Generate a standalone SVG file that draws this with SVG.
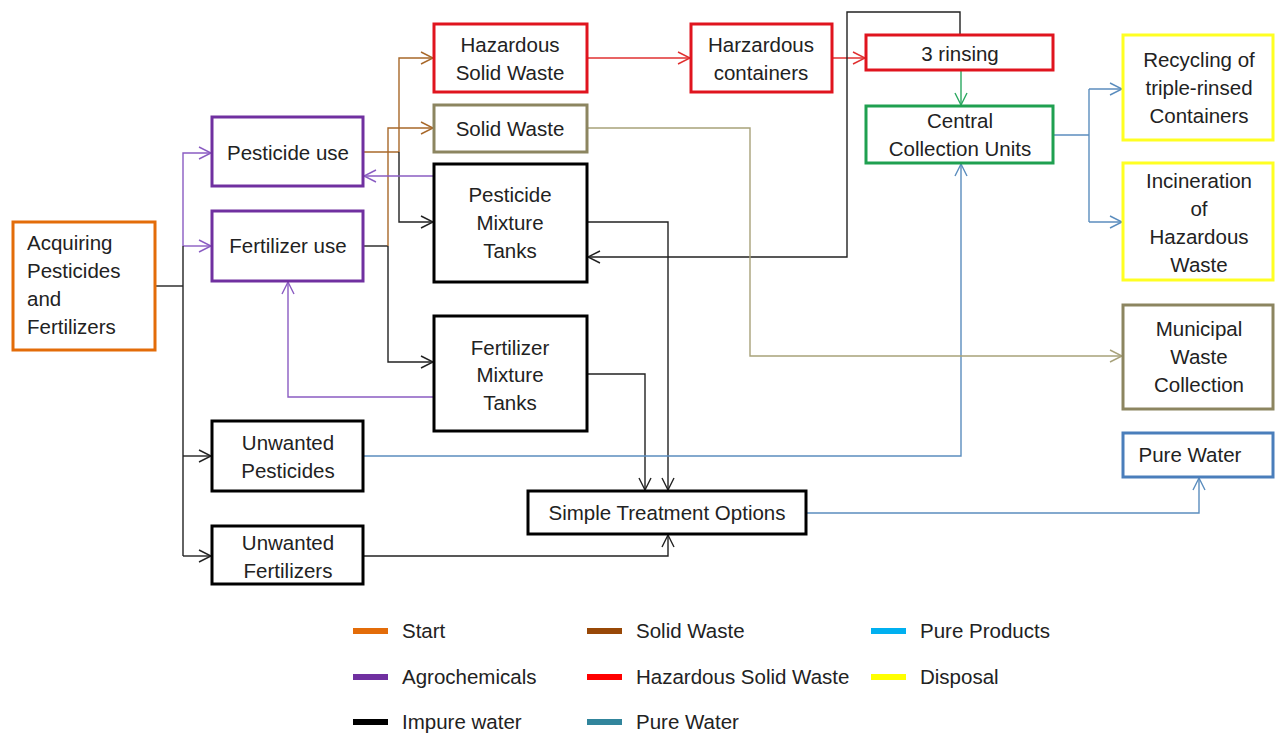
<svg xmlns="http://www.w3.org/2000/svg" width="1275" height="734" viewBox="0 0 1275 734">
<style>
.box{fill:#fff;stroke-width:3}
.t{font-family:"Liberation Sans",Arial,sans-serif;font-size:20.5px;fill:#222;text-anchor:middle}
.tl{font-family:"Liberation Sans",Arial,sans-serif;font-size:20.5px;fill:#222}
.lg{font-family:"Liberation Sans",Arial,sans-serif;font-size:20.5px;fill:#222}
.c{fill:none;stroke-width:1.4}
.k{stroke:#222}
.pu{stroke:#8A5CC2}
.br{stroke:#A8682A}
.rd{stroke:#E03030}
.gr{stroke:#2AA860}
.bl{stroke:#5B8DBE}
.ol{stroke:#A8A27A}
</style>
<defs>
<marker id="ak" markerUnits="userSpaceOnUse" markerWidth="16" markerHeight="16" refX="13" refY="7" orient="auto"><path d="M1,1 L13,7 L1,13" fill="none" stroke="#222" stroke-width="1.4"/></marker>
<marker id="apu" markerUnits="userSpaceOnUse" markerWidth="16" markerHeight="16" refX="13" refY="7" orient="auto"><path d="M1,1 L13,7 L1,13" fill="none" stroke="#8A5CC2" stroke-width="1.4"/></marker>
<marker id="abr" markerUnits="userSpaceOnUse" markerWidth="16" markerHeight="16" refX="13" refY="7" orient="auto"><path d="M1,1 L13,7 L1,13" fill="none" stroke="#A8682A" stroke-width="1.4"/></marker>
<marker id="ard" markerUnits="userSpaceOnUse" markerWidth="16" markerHeight="16" refX="13" refY="7" orient="auto"><path d="M1,1 L13,7 L1,13" fill="none" stroke="#E03030" stroke-width="1.4"/></marker>
<marker id="agr" markerUnits="userSpaceOnUse" markerWidth="16" markerHeight="16" refX="13" refY="7" orient="auto"><path d="M1,1 L13,7 L1,13" fill="none" stroke="#2AA860" stroke-width="1.4"/></marker>
<marker id="abl" markerUnits="userSpaceOnUse" markerWidth="16" markerHeight="16" refX="13" refY="7" orient="auto"><path d="M1,1 L13,7 L1,13" fill="none" stroke="#5B8DBE" stroke-width="1.4"/></marker>
<marker id="aol" markerUnits="userSpaceOnUse" markerWidth="16" markerHeight="16" refX="13" refY="7" orient="auto"><path d="M1,1 L13,7 L1,13" fill="none" stroke="#A8A27A" stroke-width="1.4"/></marker>
</defs>
<rect width="1275" height="734" fill="#fff"/>

<g id="connectors">
  <path class="c k" d="M155,286 H183"/>
  <path class="c pu" d="M183,246 V153 H211" marker-end="url(#apu)"/>
  <path class="c pu" d="M183,246 H211" marker-end="url(#apu)"/>
  <path class="c k" d="M183,246 V556"/>
  <path class="c k" d="M183,456 H211" marker-end="url(#ak)"/>
  <path class="c k" d="M183,556 H211" marker-end="url(#ak)"/>
  <path class="c br" d="M363,152 H399"/>
  <path class="c br" d="M399,152 V58 H433" marker-end="url(#abr)"/>
  <path class="c k" d="M399,152 V222 H433" marker-end="url(#ak)"/>
  <path class="c k" d="M363,246 H388"/>
  <path class="c br" d="M388,246 V128 H433" marker-end="url(#abr)"/>
  <path class="c k" d="M388,246 V362 H433" marker-end="url(#ak)"/>
  <path class="c pu" d="M434,176 H364" marker-end="url(#apu)"/>
  <path class="c pu" d="M434,397 H288 V282" marker-end="url(#apu)"/>
  <path class="c rd" d="M587,58 H690" marker-end="url(#ard)"/>
  <path class="c rd" d="M832,58 H865" marker-end="url(#ard)"/>
  <path class="c gr" d="M961,70 V105" marker-end="url(#agr)"/>
  <path class="c k" d="M960,35 V12 H847 V257 H588" marker-end="url(#ak)"/>
  <path class="c k" d="M587,222 H668 V490" marker-end="url(#ak)"/>
  <path class="c k" d="M587,374 H645 V490" marker-end="url(#ak)"/>
  <path class="c k" d="M363,556 H668 V535" marker-end="url(#ak)"/>
  <path class="c bl" d="M363,456 H961 V164" marker-end="url(#abl)"/>
  <path class="c bl" d="M806,513 H1199 V478" marker-end="url(#abl)"/>
  <path class="c bl" d="M1053,135 H1089"/>
  <path class="c bl" d="M1089,89 V222"/>
  <path class="c bl" d="M1089,89 H1122" marker-end="url(#abl)"/>
  <path class="c bl" d="M1089,222 H1122" marker-end="url(#abl)"/>
  <path class="c ol" d="M587,128 H750 V356 H1122" marker-end="url(#aol)"/>
</g>

<g id="acquiring">
  <rect class="box" x="13" y="222" width="142" height="128" stroke="#E36C09"/>
  <text class="tl" x="27" y="250">Acquiring</text>
  <text class="tl" x="27" y="278">Pesticides</text>
  <text class="tl" x="27" y="306">and</text>
  <text class="tl" x="27" y="334">Fertilizers</text>
</g>
<g id="pesticide-use">
  <rect class="box" x="212" y="117" width="151" height="69" stroke="#7030A0"/>
  <text class="t" x="288" y="160">Pesticide use</text>
</g>
<g id="fertilizer-use">
  <rect class="box" x="212" y="211" width="151" height="70" stroke="#7030A0"/>
  <text class="t" x="288" y="253">Fertilizer use</text>
</g>
<g id="hazardous-solid-waste">
  <rect class="box" x="434" y="24" width="153" height="68" stroke="#E0141E"/>
  <text class="t" x="510" y="52">Hazardous</text>
  <text class="t" x="510" y="80">Solid Waste</text>
</g>
<g id="solid-waste">
  <rect class="box" x="434" y="105" width="153" height="47" stroke="#8C8560"/>
  <text class="t" x="510" y="136">Solid Waste</text>
</g>
<g id="pesticide-mixture-tanks">
  <rect class="box" x="434" y="164" width="153" height="118" stroke="#000"/>
  <text class="t" x="510" y="202">Pesticide</text>
  <text class="t" x="510" y="230">Mixture</text>
  <text class="t" x="510" y="258">Tanks</text>
</g>
<g id="fertilizer-mixture-tanks">
  <rect class="box" x="434" y="316" width="153" height="115" stroke="#000"/>
  <text class="t" x="510" y="355">Fertilizer</text>
  <text class="t" x="510" y="382">Mixture</text>
  <text class="t" x="510" y="410">Tanks</text>
</g>
<g id="harzardous-containers">
  <rect class="box" x="691" y="24" width="141" height="68" stroke="#E0141E"/>
  <text class="t" x="761" y="52">Harzardous</text>
  <text class="t" x="761" y="80">containers</text>
</g>
<g id="rinsing">
  <rect class="box" x="866" y="35" width="187" height="35" stroke="#E0141E"/>
  <text class="t" x="960" y="61">3 rinsing</text>
</g>
<g id="central-collection">
  <rect class="box" x="866" y="106" width="187" height="57" stroke="#1FA050"/>
  <text class="t" x="960" y="128">Central</text>
  <text class="t" x="960" y="156">Collection Units</text>
</g>
<g id="recycling">
  <rect class="box" x="1123" y="35" width="150" height="105" stroke="#FFFF22"/>
  <text class="t" x="1199" y="67">Recycling of</text>
  <text class="t" x="1199" y="95">triple-rinsed</text>
  <text class="t" x="1199" y="123">Containers</text>
</g>
<g id="incineration">
  <rect class="box" x="1123" y="163" width="150" height="117" stroke="#FFFF22"/>
  <text class="t" x="1199" y="188">Incineration</text>
  <text class="t" x="1199" y="216">of</text>
  <text class="t" x="1199" y="244">Hazardous</text>
  <text class="t" x="1199" y="272">Waste</text>
</g>
<g id="municipal">
  <rect class="box" x="1123" y="305" width="150" height="104" stroke="#8C8560"/>
  <text class="t" x="1199" y="336">Municipal</text>
  <text class="t" x="1199" y="364">Waste</text>
  <text class="t" x="1199" y="392">Collection</text>
</g>
<g id="pure-water">
  <rect class="box" x="1123" y="433" width="150" height="44" stroke="#4A7EBB"/>
  <text class="t" x="1190" y="462">Pure Water</text>
</g>
<g id="unwanted-pesticides">
  <rect class="box" x="212" y="421" width="151" height="70" stroke="#000"/>
  <text class="t" x="288" y="450">Unwanted</text>
  <text class="t" x="288" y="478">Pesticides</text>
</g>
<g id="unwanted-fertilizers">
  <rect class="box" x="212" y="526" width="151" height="58" stroke="#000"/>
  <text class="t" x="288" y="550">Unwanted</text>
  <text class="t" x="288" y="578">Fertilizers</text>
</g>
<g id="simple-treatment">
  <rect class="box" x="528" y="491" width="278" height="43" stroke="#000"/>
  <text class="t" x="667" y="520">Simple Treatment Options</text>
</g>

<g id="legend">
  <rect x="353" y="628" width="35" height="6" fill="#E36C09"/>
  <text class="lg" x="402" y="638">Start</text>
  <rect x="353" y="674" width="35" height="6" fill="#7030A0"/>
  <text class="lg" x="402" y="684">Agrochemicals</text>
  <rect x="353" y="719" width="35" height="6" fill="#000"/>
  <text class="lg" x="402" y="729">Impure water</text>
  <rect x="587" y="628" width="35" height="6" fill="#984807"/>
  <text class="lg" x="636" y="638">Solid Waste</text>
  <rect x="587" y="674" width="35" height="6" fill="#FF0000"/>
  <text class="lg" x="636" y="684">Hazardous Solid Waste</text>
  <rect x="587" y="719" width="35" height="6" fill="#31859C"/>
  <text class="lg" x="636" y="729">Pure Water</text>
  <rect x="871" y="628" width="35" height="6" fill="#00B0F0"/>
  <text class="lg" x="920" y="638">Pure Products</text>
  <rect x="871" y="674" width="35" height="6" fill="#FFFF00"/>
  <text class="lg" x="920" y="684">Disposal</text>
</g>
</svg>
